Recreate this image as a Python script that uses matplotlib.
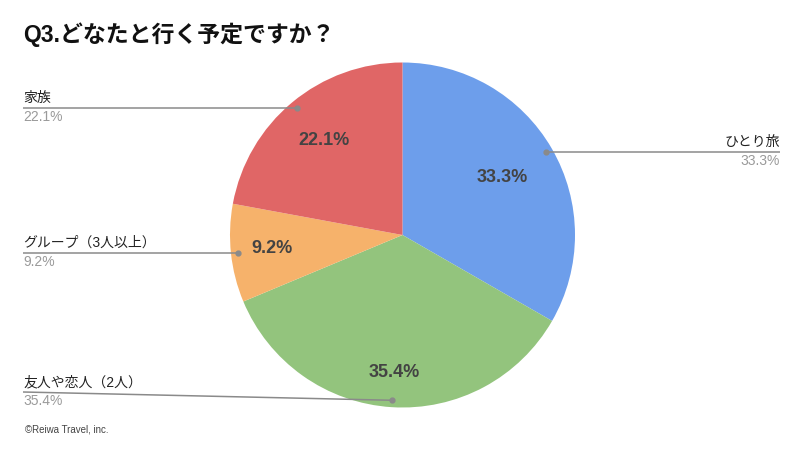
import numpy as np
import matplotlib
matplotlib.use("Agg")
import matplotlib.pyplot as plt

plt.rcParams['font.family'] = ['Liberation Sans', 'Noto Sans CJK JP', 'DejaVu Sans']

# data (clockwise from 12 o'clock)
categories = ['ひとり旅', '友人や恋人（2人）', 'グループ（3人以上）', '家族']
shares = [33.3, 35.4, 9.2, 22.1]
colors = ['#6D9EEB', '#93C47D', '#F6B26B', '#E06666']

W, H = 800, 451


def Y(py):
    # pixel row -> data y
    return H - py


fig = plt.figure(figsize=(8, 4.51), dpi=100)
ax = fig.add_axes([0, 0, 1, 1])

cx, cy, R = 402.5, Y(235), 172.5
wedges, _ = ax.pie(shares, colors=colors, startangle=90, counterclock=False,
                   center=(cx, cy), radius=R, wedgeprops=dict(linewidth=0))
ax.set_xlim(0, W)
ax.set_ylim(0, H)
ax.set_aspect('equal')
ax.axis('off')

# inside labels, radius fraction per slice
inner_r = [0.67, 0.80, 0.76, 0.71]
# outside labels: (line x end, line y pixel or None = level with dot, side)
outer = [(780, None, 'right'), (23, 392, 'left'), (23, None, 'left'), (23, None, 'left')]

for w, cat, val, fr, (lx, ly, side) in zip(wedges, categories, shares, inner_r, outer):
    mid = np.deg2rad((w.theta1 + w.theta2) / 2)
    ux, uy = np.cos(mid), np.sin(mid)
    ax.text(cx + fr * R * ux, cy + fr * R * uy, f'{val:.1f}%',
            ha='center', va='center', fontsize=13, fontweight='bold', color='#434343')
    dx, dy = cx + 0.96 * R * ux, cy + 0.96 * R * uy
    ty = dy if ly is None else Y(ly)
    ax.plot([lx, dx], [ty, dy], color='#8a8a8a', lw=1.1, solid_capstyle='butt')
    ax.plot(dx, dy, 'o', ms=3.5, color='#8a8a8a')
    ax.text(lx, ty + 3, cat, ha=side, va='bottom', fontsize=10, color='#222222')
    ax.text(lx, ty - 2, f'{val:.1f}%', ha=side, va='top', fontsize=10, color='#9a9a9a')

ax.text(23, Y(35), 'Q3.どなたと行く予定ですか？', ha='left', va='center',
        fontsize=16.5, fontweight='bold', color='#111111')
ax.text(25, Y(430), '©Reiwa Travel, inc.', ha='left', va='center',
        fontsize=7, color='#444444')

fig.savefig('out.png', dpi=100)
